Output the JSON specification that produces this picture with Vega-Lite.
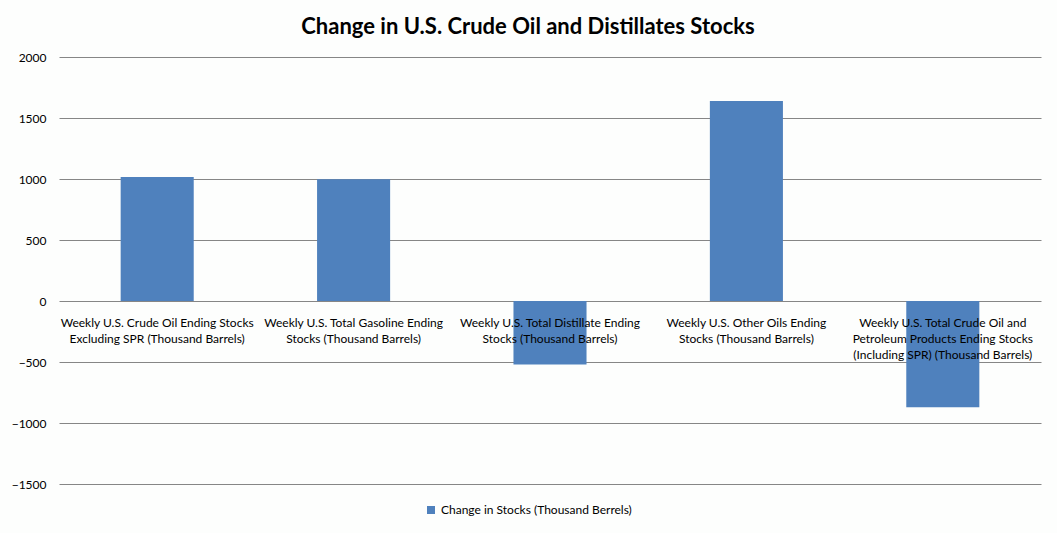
{
  "$schema": "https://vega.github.io/schema/vega-lite/v6.json",
  "autosize": "none",
  "width": 982,
  "height": 427,
  "padding": {"left": 59, "top": 57, "right": 16, "bottom": 49},
  "background": "#fdfefd",
  "config": {
    "font": "Lato",
    "view": {"stroke": null}
  },
  "title": {
    "text": "Change in U.S. Crude Oil and Distillates Stocks",
    "fontSize": 22,
    "fontWeight": "bold",
    "font": "Lato",
    "color": "#000000",
    "anchor": "middle",
    "offset": 12,
    "dx": -22
  },
  "data": {
    "values": [
      {"category": "Weekly U.S. Crude Oil Ending Stocks Excluding SPR (Thousand Barrels)", "change": 1017, "series": "Change in Stocks (Thousand Berrels)"},
      {"category": "Weekly U.S. Total Gasoline Ending Stocks (Thousand Barrels)", "change": 998, "series": "Change in Stocks (Thousand Berrels)"},
      {"category": "Weekly U.S. Total Distillate Ending Stocks (Thousand Barrels)", "change": -521, "series": "Change in Stocks (Thousand Berrels)"},
      {"category": "Weekly U.S. Other Oils Ending Stocks (Thousand Barrels)", "change": 1640, "series": "Change in Stocks (Thousand Berrels)"},
      {"category": "Weekly U.S. Total Crude Oil and Petroleum Products Ending Stocks (Including SPR) (Thousand Barrels)", "change": -871, "series": "Change in Stocks (Thousand Berrels)"}
    ]
  },
  "mark": {"type": "bar", "color": "#4F81BD"},
  "encoding": {
    "x": {
      "field": "category",
      "type": "nominal",
      "sort": null,
      "scale": {"paddingInner": 0.628, "paddingOuter": 0.314},
      "axis": {
        "title": null,
        "orient": "bottom",
        "offset": -183,
        "domain": false,
        "ticks": false,
        "labelAngle": 0,
        "labelPadding": 16,
        "labelFontSize": 12,
        "labelColor": "#000000",
        "labelLineHeight": 16,
        "labelBaseline": "top",
        "labelLimit": 300,
        "zindex": 1,
        "labelExpr": "datum.value == 'Weekly U.S. Crude Oil Ending Stocks Excluding SPR (Thousand Barrels)' ? ['Weekly U.S. Crude Oil Ending Stocks', 'Excluding SPR  (Thousand Barrels)'] : datum.value == 'Weekly U.S. Total Gasoline Ending Stocks (Thousand Barrels)' ? ['Weekly U.S. Total Gasoline Ending', 'Stocks  (Thousand Barrels)'] : datum.value == 'Weekly U.S. Total Distillate Ending Stocks (Thousand Barrels)' ? ['Weekly U.S. Total Distillate  Ending', 'Stocks  (Thousand Barrels)'] : datum.value == 'Weekly U.S. Other Oils Ending Stocks (Thousand Barrels)' ? ['Weekly U.S. Other Oils Ending', 'Stocks  (Thousand Barrels)'] : ['Weekly U.S. Total Crude Oil and', 'Petroleum Products Ending Stocks', '(Including SPR)  (Thousand Barrels)']"
      }
    },
    "y": {
      "field": "change",
      "type": "quantitative",
      "scale": {"domain": [-1500, 2000], "nice": false},
      "axis": {
        "title": null,
        "values": [-1500, -1000, -500, 0, 500, 1000, 1500, 2000],
        "format": "d",
        "domain": false,
        "ticks": false,
        "labelPadding": 13,
        "labelFontSize": 12,
        "labelColor": "#000000",
        "gridColor": "#868686",
        "gridOpacity": 1,
        "gridWidth": 1
      }
    },
    "color": {
      "field": "series",
      "type": "nominal",
      "scale": {"range": ["#4F81BD"]},
      "legend": {
        "title": null,
        "orient": "none",
        "legendX": 366,
        "legendY": 447,
        "direction": "horizontal",
        "symbolType": "square",
        "symbolSize": 64,
        "symbolOpacity": 1,
        "labelFontSize": 12,
        "labelColor": "#000000",
        "labelLimit": 400
      }
    }
  }
}
